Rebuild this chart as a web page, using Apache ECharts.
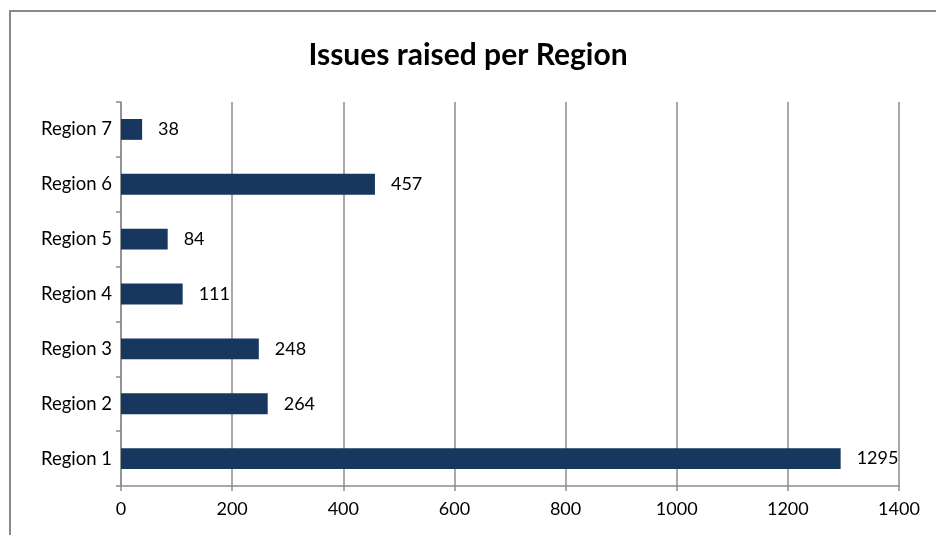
<!DOCTYPE html>
<html>
<head>
<meta charset="utf-8">
<script src="https://cdn.jsdelivr.net/npm/echarts@6/dist/echarts.min.js"></script>
<style>
  html, body { margin: 0; padding: 0; background: #fff; }
  #frame { position: absolute; left: 9px; top: 10px; width: 940px; height: 540px; border: 2px solid #8a8a8a; box-sizing: border-box; }
  #chart { position: absolute; left: 0; top: 0; width: 936px; height: 535px; }
</style>
</head>
<body>
<div id="frame"></div>
<div id="chart"></div>
<script>
// Issue counts per region, bottom to top
const regions = ['Region 1', 'Region 2', 'Region 3', 'Region 4', 'Region 5', 'Region 6', 'Region 7'];
const issues = [1295, 264, 248, 111, 84, 457, 38];
const xTicks = [0, 200, 400, 600, 800, 1000, 1200, 1400];

const font = 'Lato, "Open Sans", "Liberation Sans", sans-serif';
const chart = echarts.init(document.getElementById('chart'), null, { renderer: 'canvas' });
chart.setOption({
  backgroundColor: 'transparent',
  animation: false,
  title: {
    text: 'Issues raised per Region',
    left: 'center',
    top: 35,
    textStyle: { fontFamily: font, fontSize: 30, fontWeight: 'bold', color: '#000' }
  },
  grid: { left: 121, right: 37, top: 102, bottom: 49 },
  xAxis: {
    type: 'value',
    min: xTicks[0],
    max: xTicks[xTicks.length - 1],
    interval: 200,
    axisLine: { show: true, lineStyle: { color: '#8c8c8c', width: 1.5 } },
    axisTick: { show: true, length: 5, lineStyle: { color: '#8c8c8c', width: 1.5 } },
    splitLine: { show: true, lineStyle: { color: '#8c8c8c', width: 1.5 } },
    axisLabel: { fontFamily: font, fontSize: 18, color: '#000', margin: 14, formatter: v => String(v) }
  },
  yAxis: {
    type: 'category',
    data: regions,
    axisLine: { show: true, lineStyle: { color: '#8c8c8c', width: 1.5 } },
    axisTick: { show: true, length: 5, lineStyle: { color: '#8c8c8c', width: 1.5 } },
    axisLabel: { fontFamily: font, fontSize: 18.5, color: '#000', margin: 9 }
  },
  series: [{
    type: 'bar',
    data: issues,
    barWidth: '38%',
    itemStyle: { color: '#17375e' },
    label: {
      show: true,
      position: 'right',
      distance: 16,
      fontFamily: font,
      fontSize: 18,
      color: '#000',
      formatter: p => String(p.value)
    }
  }]
});
</script>
</body>
</html>
